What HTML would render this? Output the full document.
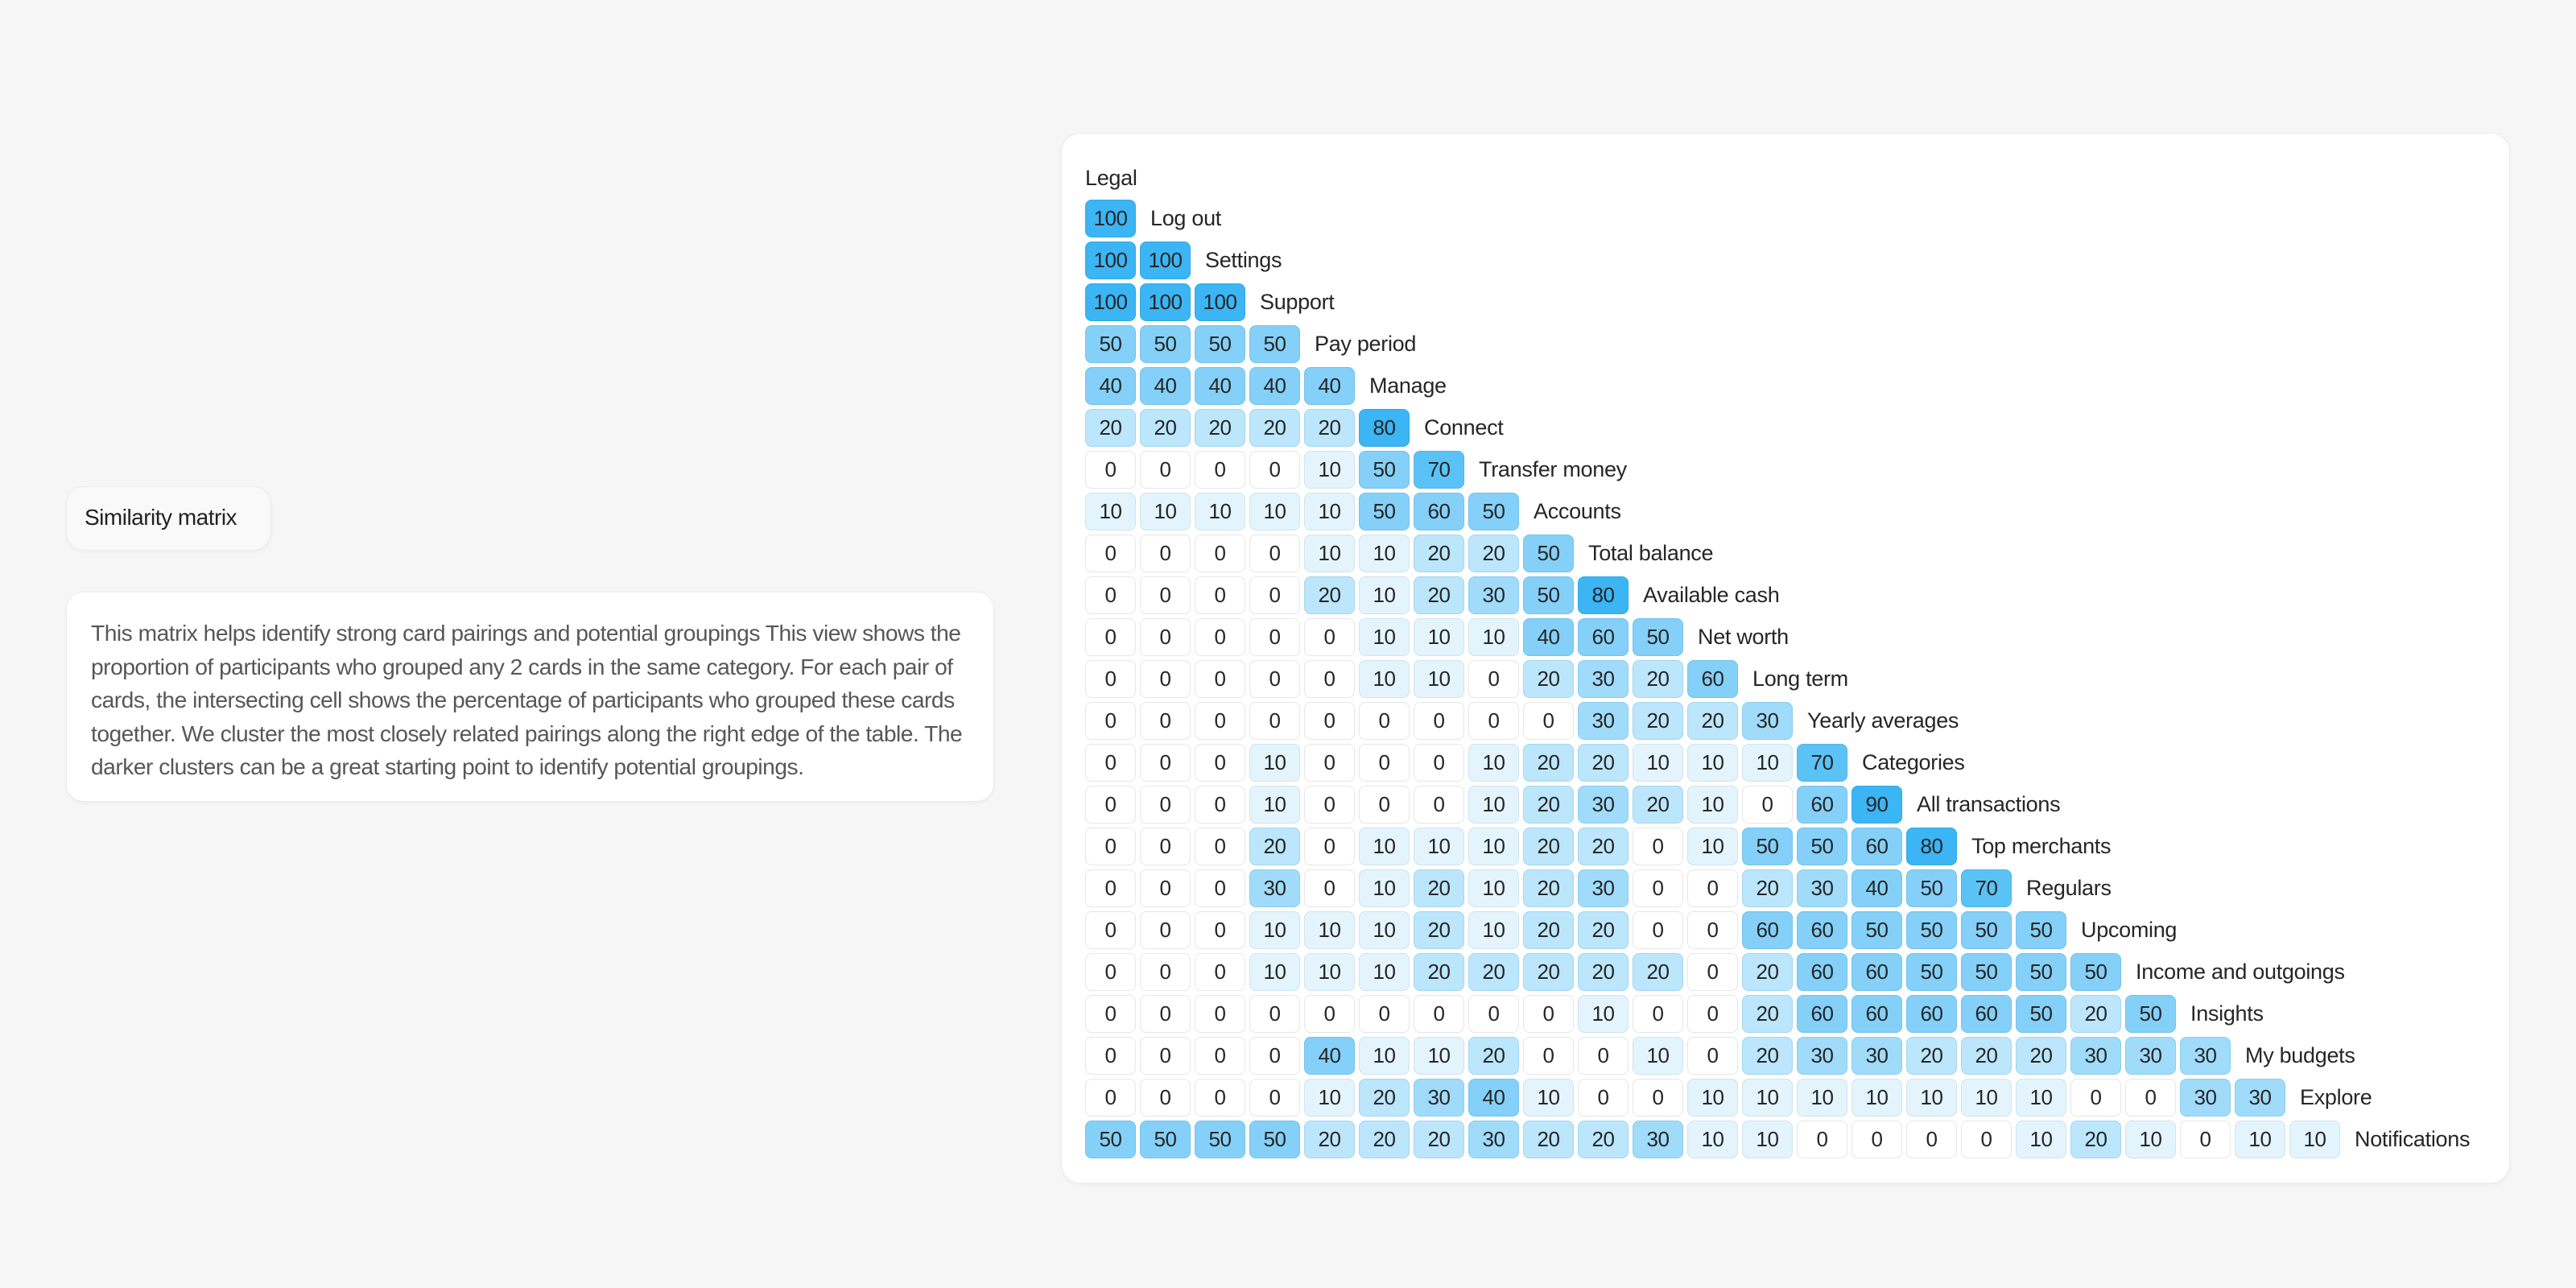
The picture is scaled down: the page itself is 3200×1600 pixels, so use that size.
<!DOCTYPE html>
<html><head><meta charset="utf-8">
<style>
html,body{margin:0;padding:0;}
body{width:3200px;height:1600px;background:#f6f6f6;position:relative;overflow:hidden;font-family:"Liberation Sans",sans-serif;color:#2a2a2a;}
.title-box{position:absolute;left:82px;top:604px;width:255px;height:80px;background:#f9f9f9;border:1.5px solid #ececec;border-radius:22px;box-sizing:border-box;box-shadow:0 2px 4px rgba(0,0,0,0.04);}
.title-box span{position:absolute;left:22px;top:22px;font-size:28px;letter-spacing:-0.5px;color:#222;}
.desc-box{position:absolute;left:82px;top:735px;width:1153px;height:261px;background:#fff;border:1.5px solid #ececec;border-radius:22px;box-sizing:border-box;box-shadow:0 2px 4px rgba(0,0,0,0.04);}
.desc-box p{position:absolute;left:30px;top:30px;width:1110px;margin:0;font-size:28.2px;line-height:41.5px;color:#575757;letter-spacing:-0.5px;white-space:nowrap;}
.card{position:absolute;left:1318px;top:165px;width:1800px;height:1305px;background:#fff;border:1.5px solid #ececec;border-radius:24px;box-sizing:border-box;box-shadow:0 2px 6px rgba(0,0,0,0.04);}
.cell{position:absolute;width:63px;height:47px;box-sizing:border-box;border-radius:8px;border:1.5px solid #e6e6e6;font-size:26px;text-align:center;line-height:44px;color:#262626;letter-spacing:-0.5px;}
.lab{position:absolute;font-size:27px;line-height:47px;white-space:nowrap;color:#262626;letter-spacing:-0.3px;}
</style></head>
<body>
<div class="title-box"><span>Similarity matrix</span></div>
<div class="desc-box"><p>This matrix helps identify strong card pairings and potential groupings This view shows the<br>proportion of participants who grouped any 2 cards in the same category. For each pair of<br>cards, the intersecting cell shows the percentage of participants who grouped these cards<br>together. We cluster the most closely related pairings along the right edge of the table. The<br>darker clusters can be a great starting point to identify potential groupings.</p></div>
<div class="card"></div>
<div id="m"></div>
<script>
const topLabel = "Legal";
const labels = ["Log out","Settings","Support","Pay period","Manage","Connect","Transfer money","Accounts","Total balance","Available cash","Net worth","Long term","Yearly averages","Categories","All transactions","Top merchants","Regulars","Upcoming","Income and outgoings","Insights","My budgets","Explore","Notifications"];
const values = [
[100],
[100,100],
[100,100,100],
[50,50,50,50],
[40,40,40,40,40],
[20,20,20,20,20,80],
[0,0,0,0,10,50,70],
[10,10,10,10,10,50,60,50],
[0,0,0,0,10,10,20,20,50],
[0,0,0,0,20,10,20,30,50,80],
[0,0,0,0,0,10,10,10,40,60,50],
[0,0,0,0,0,10,10,0,20,30,20,60],
[0,0,0,0,0,0,0,0,0,30,20,20,30],
[0,0,0,10,0,0,0,10,20,20,10,10,10,70],
[0,0,0,10,0,0,0,10,20,30,20,10,0,60,90],
[0,0,0,20,0,10,10,10,20,20,0,10,50,50,60,80],
[0,0,0,30,0,10,20,10,20,30,0,0,20,30,40,50,70],
[0,0,0,10,10,10,20,10,20,20,0,0,60,60,50,50,50,50],
[0,0,0,10,10,10,20,20,20,20,20,0,20,60,60,50,50,50,50],
[0,0,0,0,0,0,0,0,0,10,0,0,20,60,60,60,60,50,20,50],
[0,0,0,0,40,10,10,20,0,0,10,0,20,30,30,20,20,20,30,30,30],
[0,0,0,0,10,20,30,40,10,0,0,10,10,10,10,10,10,10,0,0,30,30],
[50,50,50,50,20,20,20,30,20,20,30,10,10,0,0,0,0,10,20,10,0,10,10]
];
const X0=1348, Y0=248, DX=68, DY=52;
function xPos(c){return X0+c*DX;}
function yPos(r){return Y0+r*DY;}
function color(v){
  if(v>=80) return ["#3bb5f4","#35a9e6"];
  if(v>=70) return ["#5bc2f6","#4fb5ea"];
  if(v>=40) return ["#84d0f8","#74c2ec"];
  if(v>=30) return ["#a0dbfa","#8ccdee"];
  if(v>=20) return ["#bce6fb","#a4d6ee"];
  if(v>=10) return ["#e4f4fd","#cfe3ee"];
  return ["#ffffff","#e6e6e6"];
}
const root=document.getElementById('m');
const t=document.createElement('div');
t.className='lab';


t.style.left=X0+'px'; t.style.top=(yPos(-1)+2)+'px';
t.textContent=topLabel; root.appendChild(t);
values.forEach((row,r)=>{
  row.forEach((v,c)=>{
    const d=document.createElement('div');
    d.className='cell';
    
    
    const col=color(v);
    d.style.left=xPos(c)+'px'; d.style.top=yPos(r)+'px';
    d.style.background=col[0]; d.style.borderColor=col[1];
    d.textContent=v; root.appendChild(d);
  });
  const l=document.createElement('div');
  l.className='lab';
  
  
  l.style.left=(xPos(row.length)+13)+'px'; l.style.top=yPos(r)+'px';
  l.textContent=labels[r]; root.appendChild(l);
});
</script>
</body></html>
